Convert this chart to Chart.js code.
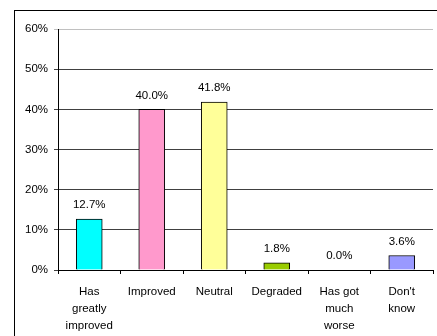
<!DOCTYPE html>
<html>
<head>
<meta charset="utf-8">
<script src="https://cdn.jsdelivr.net/npm/chart.js@4"></script>
<style>
html,body{margin:0;padding:0;background:#fff}
#wrap{width:437px;height:336px;position:relative}
</style>
</head>
<body>
<div id="wrap"><canvas id="c" width="437" height="336"></canvas></div>
<script>
// data
var categories = [['Has','greatly','improved'], 'Improved', 'Neutral', 'Degraded', ['Has got','much','worse'], ["Don't", 'know']];
var shares = [12.7, 40.0, 41.8, 1.8, 0.0, 3.6];
var barColors = ['#00FFFF', '#FF99CC', '#FFFF99', '#99CC00', '#808080', '#9999FF'];
var yTicks = [0, 10, 20, 30, 40, 50, 60];

var FONT = 'Liberation Sans, Arial, sans-serif';

// outer frame + value labels above bars
var framePlugin = {
  id: 'frame',
  beforeDraw: function(chart){
    var ctx = chart.ctx;
    ctx.save();
    ctx.fillStyle = '#fff';
    ctx.fillRect(0, 0, chart.width, chart.height);
    ctx.strokeStyle = '#000';
    ctx.lineWidth = 1;
    ctx.strokeRect(14.5, 10.5, 600, 600);
    ctx.restore();
  },
  afterDatasetsDraw: function(chart){
    var ctx = chart.ctx;
    var meta = chart.getDatasetMeta(0);
    ctx.save();
    ctx.font = '11.5px ' + FONT;
    ctx.fillStyle = '#000';
    ctx.textAlign = 'center';
    ctx.textBaseline = 'middle';
    meta.data.forEach(function(bar, i){
      ctx.fillText(shares[i].toFixed(1) + '%', bar.x, bar.y - 14);
    });
    ctx.restore();
  }
};

new Chart(document.getElementById('c').getContext('2d'), {
  type: 'bar',
  data: {
    labels: categories,
    datasets: [{
      data: shares,
      backgroundColor: barColors,
      borderColor: '#000',
      borderWidth: 1,
      barThickness: 26
    }]
  },
  options: {
    responsive: false,
    animation: false,
    layout: { padding: { left: 0, top: 29, right: 4, bottom: 0 } },
    plugins: { legend: { display: false }, tooltip: { enabled: false } },
    scales: {
      x: {
        grid: { drawOnChartArea: false, drawTicks: true, tickLength: 4, color: '#000', offset: true },
        border: { color: '#000', width: 1 },
        ticks: { color: '#000', padding: 9, maxRotation: 0, autoSkip: false,
          font: { family: FONT, size: 11.5, lineHeight: 1.5 } },
        afterFit: function(s){ s.height = 66; }
      },
      y: {
        min: yTicks[0],
        max: yTicks[yTicks.length - 1],
        afterBuildTicks: function(s){ s.ticks = yTicks.map(function(v){ return { value: v }; }); },
        grid: {
          tickLength: 4,
          color: function(c){ return c.tick && c.tick.value === 60 ? '#c0c0c0' : '#404040'; },
          lineWidth: 1
        },
        border: { color: '#000', width: 1 },
        ticks: { color: '#000', padding: 6, font: { family: FONT, size: 11.5 },
          callback: function(v){ return v + '%'; } },
        afterFit: function(s){ s.width = 58; }
      }
    }
  },
  plugins: [framePlugin]
});
</script>
</body>
</html>
